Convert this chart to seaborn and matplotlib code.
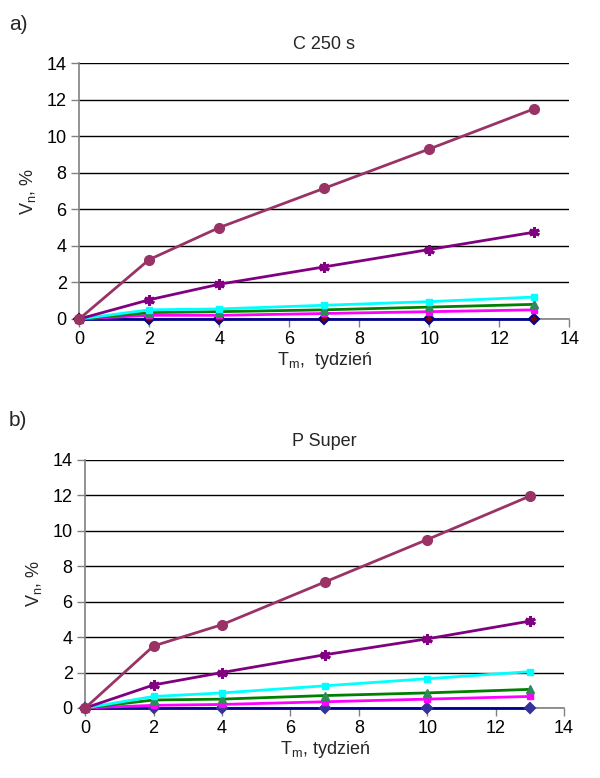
import numpy as np
import pandas as pd
import matplotlib
matplotlib.use("Agg")
import matplotlib.pyplot as plt
import seaborn as sns

# time in weeks
weeks = [0, 2, 4, 7, 10, 13]

# panel a) C 250 s
c250_brown = [0, 3.25, 5.0, 7.15, 9.3, 11.5]
c250_purple = [0, 1.05, 1.9, 2.85, 3.8, 4.75]
c250_cyan = [0, 0.5, 0.55, 0.75, 0.95, 1.2]
c250_green = [0, 0.35, 0.4, 0.5, 0.65, 0.8]
c250_magenta = [0, 0.2, 0.2, 0.3, 0.4, 0.5]
c250_navy = [0, 0, 0, 0, 0, 0]

# panel b) P Super
psup_brown = [0, 3.5, 4.7, 7.1, 9.5, 11.95]
psup_purple = [0, 1.3, 2.0, 3.0, 3.9, 4.9]
psup_cyan = [0, 0.65, 0.85, 1.25, 1.65, 2.05]
psup_green = [0, 0.45, 0.5, 0.7, 0.85, 1.05]
psup_magenta = [0, 0.15, 0.2, 0.35, 0.5, 0.65]
psup_navy = [0, 0, 0, 0, 0, 0]

y_ticks = [0, 2, 4, 6, 8, 10, 12, 14]
x_ticks = [0, 2, 4, 6, 8, 10, 12, 14]

sns.set_theme(style="white")
plt.rcParams['font.family'] = ['Liberation Sans', 'DejaVu Sans']


def draw_panel(ax, series, title, xlabel, diamond_face, diamond_edge):
    styles = [
        dict(color='#00008B', marker='D', ms=5, mfc=diamond_face, mec=diamond_edge, mew=1.5),
        dict(color='#FF00FF', marker='s', ms=5, mfc='#FF00FF', mec='#FF00FF', mew=1),
        dict(color='#008000', marker='^', ms=5.5, mfc='#2E8B57', mec='#2E8B57', mew=1),
        dict(color='#00FFFF', marker='s', ms=5, mfc='#00FFFF', mec='#00FFFF', mew=1),
        dict(color='#800080', marker=(6, 2, 0), ms=7.5, mfc='#800080', mec='#800080', mew=2.2),
        dict(color='#993366', marker='o', ms=7, mfc='#993366', mec='#993366', mew=1),
    ]
    order = [5, 4, 3, 2, 1, 0]
    for idx in order:
        st = styles[idx]
        df = pd.DataFrame({'T': weeks, 'V': series[idx]})
        sns.lineplot(data=df, x='T', y='V', ax=ax, color=st['color'], linewidth=2,
                     marker=st['marker'], markersize=st['ms'],
                     markerfacecolor=st['mfc'], markeredgecolor=st['mec'],
                     markeredgewidth=st['mew'], zorder=3 + idx, clip_on=False)
    ax.set_xlim(0, 14)
    ax.set_ylim(0, 14)
    ax.set_xticks(x_ticks)
    ax.set_yticks(y_ticks)
    ax.yaxis.grid(True, color='black', linewidth=1)
    ax.xaxis.grid(False)
    ax.set_axisbelow(True)
    for side in ['top', 'right']:
        ax.spines[side].set_visible(False)
    for side in ['left', 'bottom']:
        ax.spines[side].set_color('#808080')
        ax.spines[side].set_linewidth(1.2)
    ax.tick_params(axis='both', which='both', direction='out', length=6, width=1,
                   color='#808080', labelsize=13, labelcolor='black', pad=3,
                   bottom=True, left=True)
    ax.set_title(title, fontsize=13, pad=10)
    ax.set_xlabel(xlabel, fontsize=13, labelpad=1)
    ax.set_ylabel('V$_\\mathregular{n}$, %', fontsize=13, labelpad=6)


fig = plt.figure(figsize=(6.0, 7.78), dpi=100)
ax1 = fig.add_axes([0.132, 0.590, 0.817, 0.329])
ax2 = fig.add_axes([0.142, 0.090, 0.798, 0.319])

draw_panel(ax1, [c250_navy, c250_magenta, c250_green, c250_cyan, c250_purple, c250_brown],
           'C 250 s', 'T$_\\mathregular{m}$,  tydzień', '#800000', '#00008B')
draw_panel(ax2, [psup_navy, psup_magenta, psup_green, psup_cyan, psup_purple, psup_brown],
           'P Super', 'T$_\\mathregular{m}$, tydzień', '#333399', '#333399')

fig.text(0.015, 0.962, 'a)', fontsize=15)
fig.text(0.015, 0.453, 'b)', fontsize=15)

fig.savefig('out.png', dpi=100)
